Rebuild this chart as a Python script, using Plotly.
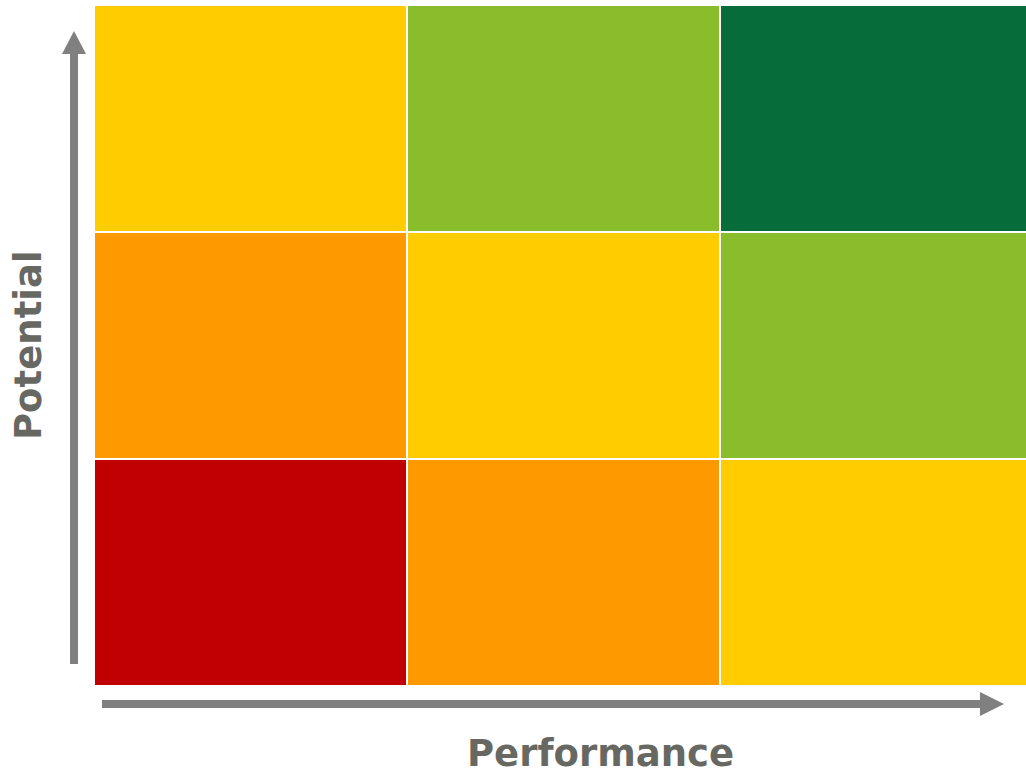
import plotly.graph_objects as go

# Performance (x) and Potential (y) levels
performance_levels = [0, 1, 2]
potential_levels = [0, 1, 2]

# rating per cell (rows bottom -> top): 0 red, 1 orange, 2 yellow, 3 light green, 4 dark green
ratings = [
    [0, 1, 2],
    [1, 2, 3],
    [2, 3, 4],
]

rating_colors = ["#C00000", "#FF9900", "#FFCC00", "#8ABD2B", "#066D3A"]

x_title = "Performance"
y_title = "Potential"

W, H = 1026, 774
ML, MR, MT, MB = 94, 0, 5, 88
PW = W - ML - MR
PH = H - MT - MB
CELL_PX = 313  # cell pitch in pixels; the right column runs past the window edge


def px(xp):
    return (xp - ML) / PW


def py(yp):
    return (H - MB - yp) / PH


n = len(rating_colors)
colorscale = [[i / (n - 1), c] for i, c in enumerate(rating_colors)]

fig = go.Figure(
    go.Heatmap(
        x=performance_levels,
        y=potential_levels,
        z=ratings,
        zmin=0,
        zmax=n - 1,
        colorscale=colorscale,
        showscale=False,
        xgap=2,
        ygap=2,
        hoverinfo="skip",
    )
)

arrow_color = "#808080"
shapes = [
    dict(type="rect", xref="paper", yref="paper",
         x0=px(70), x1=px(78), y0=py(664), y1=py(53),
         fillcolor=arrow_color, line=dict(width=0)),
    dict(type="path", xref="paper", yref="paper",
         path=f"M {px(62)} {py(54)} L {px(86)} {py(54)} L {px(74)} {py(31)} Z",
         fillcolor=arrow_color, line=dict(width=0)),
    dict(type="rect", xref="paper", yref="paper",
         x0=px(102), x1=px(981), y0=py(708), y1=py(700),
         fillcolor=arrow_color, line=dict(width=0)),
    dict(type="path", xref="paper", yref="paper",
         path=f"M {px(980)} {py(692)} L {px(980)} {py(716)} L {px(1004)} {py(704)} Z",
         fillcolor=arrow_color, line=dict(width=0)),
]

font = dict(family="DejaVu Sans", size=37, color="#686862")
annotations = [
    dict(text=f"<b>{x_title}</b>", xref="paper", yref="paper",
         x=px(600), y=py(753), xanchor="center", yanchor="middle",
         showarrow=False, font=font),
    dict(text=f"<b>{y_title}</b>", xref="paper", yref="paper",
         x=px(28), y=py(345), xanchor="center", yanchor="middle",
         textangle=-90, showarrow=False, font=font),
]

fig.update_layout(
    width=W,
    height=H,
    margin=dict(l=ML, r=MR, t=MT, b=MB),
    paper_bgcolor="white",
    plot_bgcolor="white",
    xaxis=dict(visible=False, showgrid=False, zeroline=False,
               range=[-0.5, -0.5 + PW / CELL_PX]),
    yaxis=dict(visible=False, showgrid=False, zeroline=False,
               range=[-0.5, 2.5]),
    shapes=shapes,
    annotations=annotations,
    showlegend=False,
)

fig.write_html("out.html", config={"displayModeBar": False})
